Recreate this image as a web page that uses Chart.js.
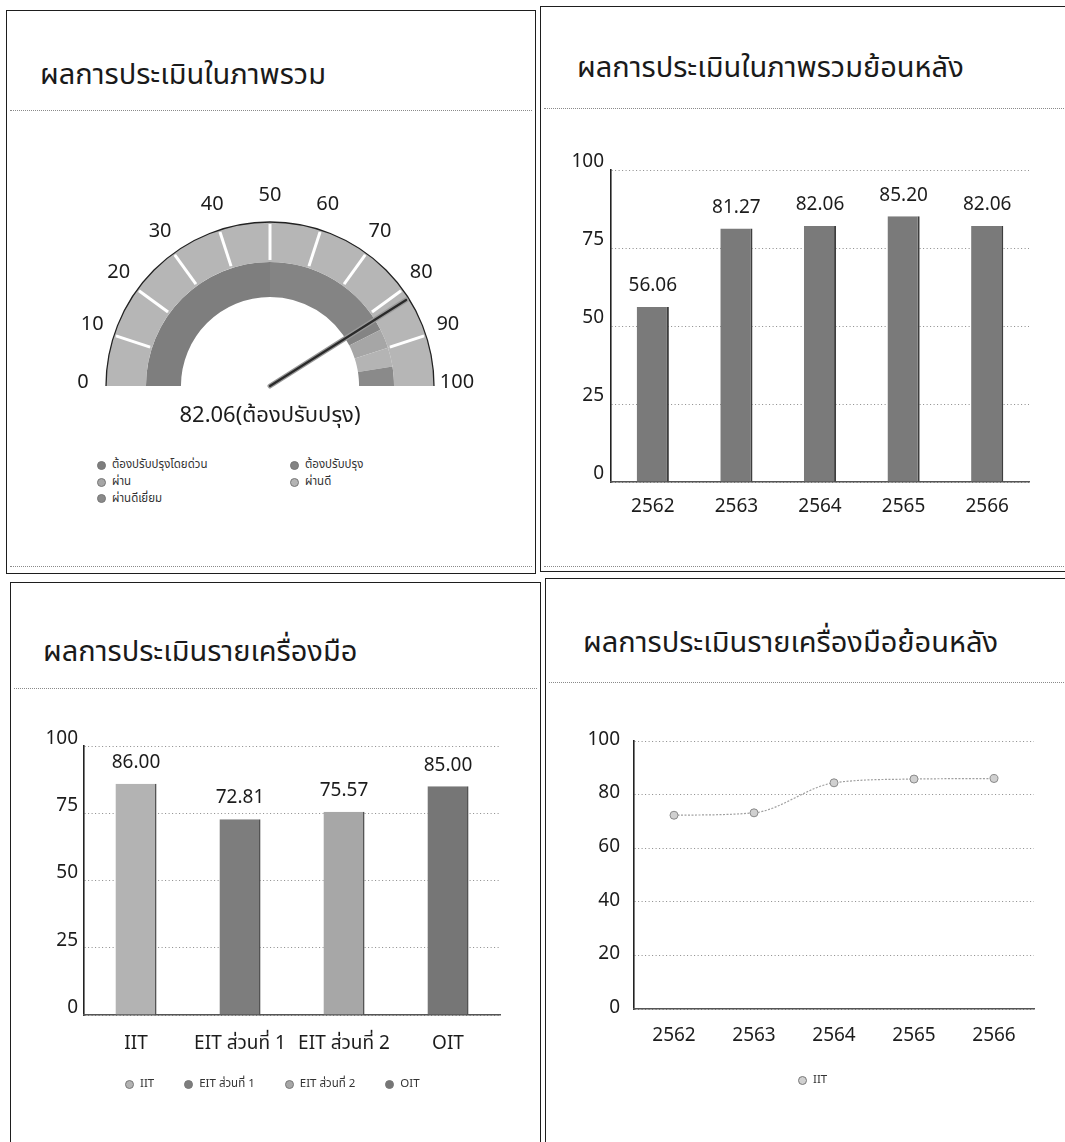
<!DOCTYPE html>
<html>
<head>
<meta charset="utf-8">
<script src="https://cdn.jsdelivr.net/npm/chart.js@4.4.0/dist/chart.umd.min.js"></script>
<style>
  html,body{margin:0;padding:0;background:#fff;}
  body{width:1065px;height:1142px;position:relative;overflow:hidden;
       font-family:"Noto Sans Thai","Noto Sans",sans-serif;color:#1c1c1c;}
  .panel{position:absolute;border:1.6px solid #1e1e1e;box-sizing:border-box;}
  .title{position:absolute;font-size:29px;line-height:32px;white-space:nowrap;color:#1a1a1a;}
  .sep{position:absolute;height:0;border-top:1px dotted #8a8a8a;}
  canvas{position:absolute;}
  .legend{position:absolute;font-size:11.5px;line-height:16.5px;color:#333;white-space:nowrap;}
  .legend .item{display:inline-flex;align-items:center;height:16.5px;}
  .legend.grid{display:grid;grid-template-columns:193px 193px;grid-auto-rows:16.8px;}
  .legend .dot{display:inline-block;width:9px;height:9px;border-radius:50%;margin-right:6px;box-sizing:border-box;}
  .gval{position:absolute;font-size:22px;white-space:nowrap;transform:translateX(-50%);}
</style>
</head>
<body>
<div class="panel" style="left:6px;top:10px;width:530px;height:564px;"></div>
<div class="panel" style="left:540px;top:6px;width:530px;height:566px;"></div>
<div class="panel" style="left:10px;top:582px;width:531px;height:570px;"></div>
<div class="panel" style="left:545px;top:578px;width:525px;height:574px;"></div>

<div class="title" style="left:40px;top:59px;">ผลการประเมินในภาพรวม</div>
<div class="title" style="left:577px;top:52px;">ผลการประเมินในภาพรวมย้อนหลัง</div>
<div class="title" style="left:43px;top:636px;">ผลการประเมินรายเครื่องมือ</div>
<div class="title" style="left:583px;top:627px;">ผลการประเมินรายเครื่องมือย้อนหลัง</div>

<div class="sep" style="left:10px;top:110px;width:522px;"></div>
<div class="sep" style="left:544px;top:108px;width:520px;"></div>
<div class="sep" style="left:14px;top:688px;width:523px;"></div>
<div class="sep" style="left:549px;top:682px;width:515px;"></div>
<div class="sep" style="left:10px;top:566px;width:522px;"></div>
<div class="sep" style="left:544px;top:566px;width:520px;"></div>

<canvas id="gauge" width="420" height="230" style="left:60px;top:180px;width:420px;height:230px;"></canvas>
<div class="gval" id="gval" style="left:270px;top:399px;"></div>
<div class="legend grid" id="gaugeLegend" style="left:97px;top:457px;"></div>

<canvas id="overall" width="490" height="390" style="left:555px;top:140px;width:490px;height:390px;"></canvas>

<canvas id="tools" width="500" height="360" style="left:20px;top:716px;width:500px;height:360px;"></canvas>
<div class="legend" id="toolLegend" style="left:125px;top:1076px;"></div>

<canvas id="trend" width="480" height="340" style="left:570px;top:715px;width:480px;height:340px;"></canvas>
<div class="legend" id="trendLegend" style="left:798px;top:1072px;"></div>

<script>
// ---------------- data ----------------
const gaugeTickValues = [0,10,20,30,40,50,60,70,80,90,100];
const gaugeTickLabels = ['0','10','20','30','40','50','60','70','80','90','100'];
const gaugeScaleSegments = [10,10,10,10,10,10,10,10,10,10];
const levelNames  = ['ต้องปรับปรุงโดยด่วน','ต้องปรับปรุง','ผ่าน','ผ่านดี','ผ่านดีเยี่ยม'];
const levelRanges = [50,35,5,5,5];
const levelColors = ['#7e7e7e','#848484','#a6a6a6','#b4b4b4','#8a8a8a'];
const overallScore  = 82.06;
const overallStatus = 'ต้องปรับปรุง';

const years = ['2562','2563','2564','2565','2566'];
const overallByYear = [56.06,81.27,82.06,85.20,82.06];

const tools = ['IIT','EIT ส่วนที่ 1','EIT ส่วนที่ 2','OIT'];
const toolScores = [86.00,72.81,75.57,85.00];
const toolColors = ['#b3b3b3','#7d7d7d','#a7a7a7','#767676'];

const trendLabel = 'IIT';
const iitByYear = [72.3,73.2,84.4,85.8,86.0];

// ---------------- shared ----------------
const FONT = '"Noto Sans Thai","Noto Sans",sans-serif';
Chart.defaults.font.family = FONT;
Chart.defaults.color = '#1c1c1c';
Chart.defaults.animation = false;
Chart.defaults.plugins.legend.display = false;
Chart.defaults.plugins.tooltip.enabled = false;

const valueLabels = {
  id:'valueLabels',
  afterDatasetsDraw(chart){
    const ctx = chart.ctx;
    const meta = chart.getDatasetMeta(0);
    const data = chart.data.datasets[0].data;
    ctx.save();
    ctx.font = '19px ' + FONT;
    ctx.fillStyle = '#1c1c1c';
    ctx.textAlign = 'center';
    ctx.textBaseline = 'bottom';
    meta.data.forEach((el,i)=>{
      ctx.fillText(Number(data[i]).toFixed(2), el.x, el.y - 10);
    });
    ctx.restore();
  }
};

function htmlLegend(id, names, colors, gap){
  const box = document.getElementById(id);
  names.forEach((n,i)=>{
    const it = document.createElement('span');
    it.className = 'item';
    if (gap && i>0) it.style.marginLeft = gap + 'px';
    const d = document.createElement('span');
    d.className = 'dot';
    d.style.background = colors[i];
    d.style.border = '1px solid #777';
    it.appendChild(d);
    it.appendChild(document.createTextNode(n));
    box.appendChild(it);
  });
}

// ---------------- gauge ----------------
const gaugeDeco = {
  id:'gaugeDeco',
  afterDatasetsDraw(chart){
    const ctx = chart.ctx;
    const arc = chart.getDatasetMeta(0).data[0];
    const cx = arc.x, cy = arc.y, R = arc.outerRadius, r = arc.innerRadius;
    const ang = v => Math.PI + v/100*Math.PI;
    ctx.save();
    ctx.strokeStyle = '#ffffff';
    ctx.lineWidth = 3;
    gaugeTickValues.forEach(v=>{
      if (v===0 || v===100) return;
      const a = ang(v);
      ctx.beginPath();
      ctx.moveTo(cx + Math.cos(a)*(r+2), cy + Math.sin(a)*(r+2));
      ctx.lineTo(cx + Math.cos(a)*(R-2), cy + Math.sin(a)*(R-2));
      ctx.stroke();
    });
    ctx.strokeStyle = '#222';
    ctx.lineWidth = 1.3;
    ctx.beginPath();
    ctx.arc(cx, cy, R, Math.PI, 2*Math.PI);
    ctx.stroke();
    ctx.fillStyle = '#1c1c1c';
    ctx.font = '20px ' + FONT;
    ctx.textAlign = 'center';
    ctx.textBaseline = 'middle';
    gaugeTickValues.forEach((v,i)=>{
      const a = ang(v);
      const rr = R + 23;
      ctx.fillText(gaugeTickLabels[i], cx + Math.cos(a)*rr, cy + Math.sin(a)*rr - 2);
    });
    const a = ang(overallScore);
    const L = R - 3;
    ctx.lineCap = 'round';
    ctx.strokeStyle = '#9a9a9a';
    ctx.lineWidth = 5;
    ctx.beginPath(); ctx.moveTo(cx, cy); ctx.lineTo(cx + Math.cos(a)*L, cy + Math.sin(a)*L); ctx.stroke();
    ctx.strokeStyle = '#2a2a2a';
    ctx.lineWidth = 2.2;
    ctx.beginPath(); ctx.moveTo(cx, cy); ctx.lineTo(cx + Math.cos(a)*L, cy + Math.sin(a)*L); ctx.stroke();
    ctx.restore();
  }
};

new Chart(document.getElementById('gauge'), {
  type:'doughnut',
  data:{
    labels: levelNames,
    datasets:[
      { data: gaugeScaleSegments, backgroundColor:'#b6b6b6', borderWidth:0, weight:40 },
      { data: levelRanges, backgroundColor: levelColors, borderWidth:0, weight:35 }
    ]
  },
  options:{
    responsive:false,
    rotation:-90,
    circumference:180,
    cutout:'54.3%',
    radius:164,
    layout:{ padding:{ left:46, right:46, top:42, bottom:24 } },
    plugins:{ legend:{display:false}, tooltip:{enabled:false} }
  },
  plugins:[gaugeDeco]
});
document.getElementById('gval').textContent = overallScore.toFixed(2) + '(' + overallStatus + ')';
htmlLegend('gaugeLegend', levelNames, levelColors, 0);

// ---------------- scales ----------------
function yScale(max, step, width, labelOffset, pad){
  return {
    min:0, max:max,
    ticks:{ stepSize:step, padding:pad, labelOffset:labelOffset, font:{size:19}, color:'#1c1c1c' },
    grid:{ color:'#8a8a8a', lineWidth:1, drawTicks:false },
    border:{ display:true, color:'#222', width:1.6, dash:[1,2.5] },
    afterFit(s){ s.width = width; }
  };
}
function xScale(height, pad){
  return {
    offset: true,
    ticks:{ padding:pad, font:{size:19}, color:'#1c1c1c', maxRotation:0, autoSkip:false },
    grid:{ display:false, drawTicks:false },
    border:{ display:true, color:'#555', width:1.6 },
    afterFit(s){ s.height = height; }
  };
}

// ---------------- overall by year ----------------
new Chart(document.getElementById('overall'), {
  type:'bar',
  data:{ labels: years,
    datasets:[{ label:'ภาพรวม', data: overallByYear, backgroundColor:'#7a7a7a',
      borderColor:'#3e3e3e', borderWidth:{left:0,top:0,bottom:0,right:2}, borderSkipped:false,
      barPercentage:0.385, categoryPercentage:1 }] },
  options:{
    responsive:false,
    layout:{ padding:{ top:30, right:16, left:0, bottom:0 } },
    scales:{ y: yScale(100,25,56,-7,7), x: xScale(48,15) }
  },
  plugins:[valueLabels]
});

// ---------------- per tool ----------------
new Chart(document.getElementById('tools'), {
  type:'bar',
  data:{ labels: tools,
    datasets:[{ label:'เครื่องมือ', data: toolScores, backgroundColor: toolColors,
      borderColor:'#4a4a4a', borderWidth:{left:0,top:0,bottom:0,right:1.5}, borderSkipped:false,
      barPercentage:0.395, categoryPercentage:1 }] },
  options:{
    responsive:false,
    layout:{ padding:{ top:30, right:20, left:0, bottom:0 } },
    scales:{ y: yScale(100,25,64,-6,6), x: xScale(61,19) }
  },
  plugins:[valueLabels]
});
htmlLegend('toolLegend', tools, toolColors, 30);

// ---------------- trend ----------------
new Chart(document.getElementById('trend'), {
  type:'line',
  data:{ labels: years,
    datasets:[{ label: trendLabel, data: iitByYear, borderColor:'#a0a0a0', borderWidth:1.2,
      borderDash:[2,1.5], tension:0.4, cubicInterpolationMode:'monotone', fill:false,
      pointRadius:4, pointBackgroundColor:'#d0d0d0', pointBorderColor:'#8a8a8a', pointBorderWidth:1 }] },
  options:{
    responsive:false,
    layout:{ padding:{ top:26, right:16, left:0, bottom:0 } },
    scales:{ y: yScale(100,20,64,0,14), x: xScale(46,17) }
  }
});
htmlLegend('trendLegend', [trendLabel], ['#d0d0d0'], 0);
</script>
</body>
</html>
